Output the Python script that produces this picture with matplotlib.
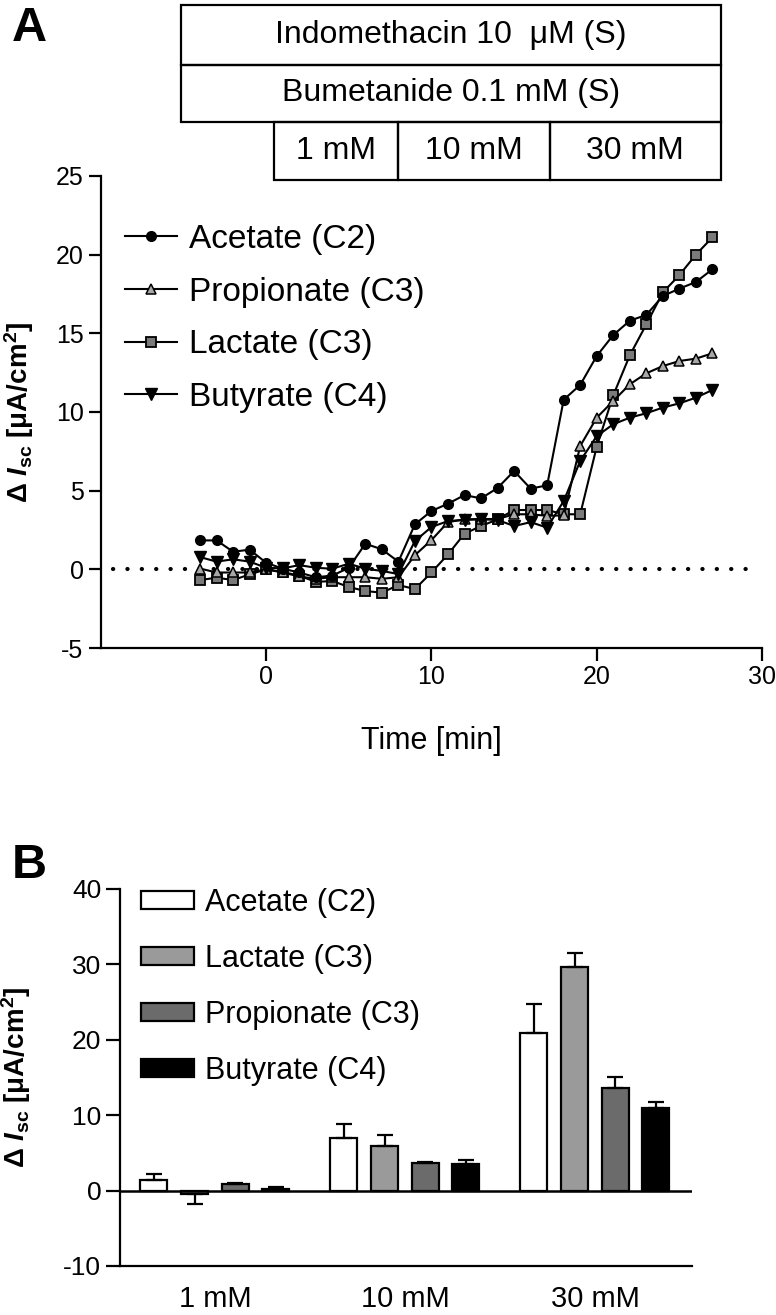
import numpy as np
import matplotlib
matplotlib.use('Agg')
import matplotlib.pyplot as plt
import matplotlib.transforms as mtransforms
from matplotlib.patches import Rectangle

plt.rcParams['font.family'] = ['Liberation Sans', 'DejaVu Sans']
plt.rcParams['axes.unicode_minus'] = False
plt.rcParams['mathtext.fontset'] = 'custom'
plt.rcParams['mathtext.rm'] = 'Liberation Sans'
plt.rcParams['mathtext.it'] = 'Liberation Sans:italic'
plt.rcParams['mathtext.bf'] = 'Liberation Sans:bold'
plt.rcParams['mathtext.bfit'] = 'Liberation Sans:bold:italic'

# ---- panel A data: time course ----
time = np.arange(-4, 28)
acetate = [1.84, 1.84, 1.12, 1.25, 0.42, 0.04, -0.2, -0.5, -0.4, 0.1, 1.63, 1.27,
           0.49, 2.86, 3.71, 4.17, 4.72, 4.51, 5.17, 6.25, 5.13, 5.34, 10.78, 11.72,
           13.56, 14.89, 15.8, 16.17, 17.37, 17.84, 18.26, 19.07]
propionate = [0.05, -0.2, -0.2, -0.2, 0.0, -0.2, -0.45, -0.6, -0.5, -0.5, -0.5, -0.6,
              -0.5, 0.9, 1.86, 3.0, 3.18, 3.2, 3.2, 3.5, 3.5, 3.4, 3.43, 7.84,
              9.64, 10.7, 11.76, 12.46, 12.92, 13.24, 13.39, 13.73]
lactate = [-0.68, -0.53, -0.68, -0.32, 0.0, -0.17, -0.4, -0.8, -0.74, -1.12, -1.38, -1.48,
           -1.0, -1.25, -0.2, 0.95, 2.27, 2.75, 3.18, 3.77, 3.77, 3.77, 3.5, 3.5,
           7.8, 11.06, 13.6, 15.57, 17.6, 18.7, 20.0, 21.1]
butyrate = [0.78, 0.49, 0.64, 0.49, 0.1, 0.06, 0.27, 0.1, 0.04, 0.36, 0.04, -0.1,
            -0.3, 1.8, 2.69, 3.07, 3.14, 3.18, 3.14, 2.75, 3.0, 2.65, 4.34, 6.89,
            8.47, 9.22, 9.64, 9.92, 10.28, 10.55, 10.91, 11.4]

# ---- panel B data: mean and upper error ----
groups = ['1 mM', '10 mM', '30 mM']
bar_names = ['Acetate (C2)', 'Lactate (C3)', 'Propionate (C3)', 'Butyrate (C4)']
bar_means = [[1.42, 6.95, 20.9],
             [-0.44, 5.93, 29.6],
             [0.88, 3.63, 13.6],
             [0.18, 3.5, 11.0]]
bar_errs = [[0.8, 1.85, 3.9],
            [1.3, 1.4, 1.9],
            [0.15, 0.2, 1.4],
            [0.3, 0.55, 0.8]]
bar_colors = ['white', '#9a9a9a', '#6b6b6b', 'black']

ylab = 'Δ $\\mathbfit{I}_{\\mathbf{sc}}$ [μA/cm$^{\\mathbf{2}}$]'

fig = plt.figure(figsize=(7.76, 13.15), dpi=100)

# ================= panel A =================
ax1 = fig.add_axes([0.130, 0.5072, 0.852, 0.359])
ax1.plot(time, lactate, '-s', color='black', lw=1.5, ms=7.5, mfc='#7a7a7a',
         mec='black', mew=1.3, label='Lactate (C3)', zorder=3)
ax1.plot(time, propionate, '-^', color='black', lw=1.5, ms=7.5, mfc='#a8a8a8',
         mec='black', mew=1.1, label='Propionate (C3)', zorder=3)
ax1.plot(time, butyrate, '-v', color='black', lw=1.5, ms=8, mfc='black',
         mec='black', label='Butyrate (C4)', zorder=3)
ax1.plot(time, acetate, '-o', color='black', lw=1.5, ms=7, mfc='black',
         mec='black', label='Acetate (C2)', zorder=4)
ax1.axhline(0, xmin=0.018, xmax=0.975, color='black', lw=3,
            linestyle=(0, (0.05, 3.4)), dash_capstyle='round', zorder=2)

ax1.set_xlim(-10, 30)
ax1.set_ylim(-5, 25)
ax1.set_xticks([0, 10, 20, 30])
ax1.set_yticks([-5, 0, 5, 10, 15, 20, 25])
for s in ['top', 'right']:
    ax1.spines[s].set_visible(False)
for s in ['left', 'bottom']:
    ax1.spines[s].set_linewidth(1.6)
ax1.tick_params(axis='both', labelsize=18, width=1.6, length=9, pad=3.5)
ax1.set_xlabel('Time [min]', fontsize=22)
ax1.xaxis.set_label_coords(0.5, -0.165)
ax1.set_ylabel(ylab, fontsize=20, fontweight='bold')
ax1.yaxis.set_label_coords(-0.098, 0.5)

h, l = ax1.get_legend_handles_labels()
order = [3, 1, 0, 2]
ax1.legend([h[i] for i in order], [l[i] for i in order], loc='upper left',
           bbox_to_anchor=(125 / 776, 1 - 224 / 1315), bbox_transform=fig.transFigure,
           frameon=False, fontsize=24, handlelength=1.55, handletextpad=0.36,
           labelspacing=0.65, borderpad=0, borderaxespad=0)

# treatment boxes above panel A (x in minutes, y in figure fraction)
trans = mtransforms.blended_transform_factory(ax1.transData, fig.transFigure)
boxes = [(-5.15, 27.5, 0.9506, 0.9962, 'Indomethacin 10  μM (S)'),
         (-5.15, 27.5, 0.9072, 0.9506, 'Bumetanide 0.1 mM (S)'),
         (0.5, 7.95, 0.8631, 0.9072, '1 mM'),
         (7.95, 17.15, 0.8631, 0.9072, '10 mM'),
         (17.15, 27.5, 0.8631, 0.9072, '30 mM')]
for x0, x1, y0, y1, txt in boxes:
    r = Rectangle((x0, y0), x1 - x0, y1 - y0, transform=trans, fill=False,
                  edgecolor='black', lw=1.6, clip_on=False)
    fig.add_artist(r)
    fig.text(0, 0, txt, transform=trans, fontsize=23, ha='center', va='center')
    fig.texts[-1].set_position(((x0 + x1) / 2, (y0 + y1) / 2))

fig.text(12 / 776, 1 - 6 / 1315, 'A', fontsize=35, fontweight='bold', va='top')

# ================= panel B =================
ax2 = fig.add_axes([0.1546, 0.0373, 0.737, 0.2867])
xg = np.arange(len(groups))
step = 0.214
width = 0.142
for i, name in enumerate(bar_names):
    m = np.array(bar_means[i])
    e = np.array(bar_errs[i])
    up = np.where(m >= 0, e, 0)
    down = np.where(m < 0, e, 0)
    ax2.bar(xg + (i - 1.5) * step, m, width, color=bar_colors[i],
            edgecolor='black', linewidth=1.6, label=name,
            yerr=[down, up], error_kw=dict(ecolor='black', elinewidth=1.6,
                                           capsize=5.5, capthick=1.6), zorder=3)
ax2.axhline(0, color='black', lw=1.8, zorder=4)
ax2.set_xlim(-0.5, 2.51)
ax2.set_ylim(-10, 40)
ax2.set_yticks([-10, 0, 10, 20, 30, 40])
ax2.set_xticks(xg)
ax2.set_xticklabels(groups)
for s in ['top', 'right']:
    ax2.spines[s].set_visible(False)
for s in ['left', 'bottom']:
    ax2.spines[s].set_linewidth(1.6)
ax2.tick_params(axis='y', labelsize=19, width=1.6, length=10, pad=3.5)
ax2.tick_params(axis='x', labelsize=21, length=0, pad=14)
ax2.set_ylabel(ylab, fontsize=20, fontweight='bold')
ax2.yaxis.set_label_coords(-0.152, 0.5)
ax2.legend(loc='upper left', bbox_to_anchor=(141 / 776, 1 - 888 / 1315),
           bbox_transform=fig.transFigure, frameon=False, fontsize=22,
           handlelength=1.73, handleheight=0.5, handletextpad=0.36,
           labelspacing=0.85, borderpad=0, borderaxespad=0)

fig.text(12 / 776, 1 - 843 / 1315, 'B', fontsize=35, fontweight='bold', va='top')

fig.savefig('out.png', dpi=100)
